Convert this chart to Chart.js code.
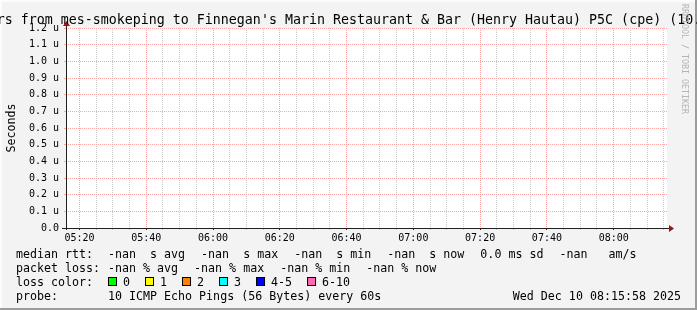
<!DOCTYPE html>
<html>
<head>
<meta charset="utf-8">
<script src="https://cdn.jsdelivr.net/npm/chart.js@4.4.1/dist/chart.umd.min.js"></script>
<style>
  html, body { margin: 0; padding: 0; background: #f3f3f3; }
  #wrap { width: 697px; height: 310px; position: relative; }
</style>
</head>
<body>
<div id="wrap"><canvas id="smoke" width="697" height="310"></canvas></div>
<script>
// time axis is in minutes after midnight, last 3 hours up to 08:15:58
const rangeStart = 315 + 58 / 60;
const rangeEnd = 495 + 58 / 60;
const gridMinutes = [320, 325, 330, 335, 340, 345, 350, 355, 360, 365, 370, 375,
                     380, 385, 390, 395, 400, 405, 410, 415, 420, 425, 430, 435,
                     440, 445, 450, 455, 460, 465, 470, 475, 480, 485, 490, 495];
const labelMinutes = [320, 340, 360, 380, 400, 420, 440, 460, 480];
const xTickLabels = ['05:20', '05:40', '06:00', '06:20', '06:40', '07:00', '07:20', '07:40', '08:00'];
const yTicks = [0, 0.1, 0.2, 0.3, 0.4, 0.5, 0.6, 0.7, 0.8, 0.9, 1.0, 1.1, 1.2];
const yTickLabels = ['0.0', '0.1 u', '0.2 u', '0.3 u', '0.4 u', '0.5 u', '0.6 u', '0.7 u',
                     '0.8 u', '0.9 u', '1.0 u', '1.1 u', '1.2 u'];

// no samples came back (-nan), so the series is empty
const pingTimes = [];
const medianRtt = [];

const statNames = ['avg', 'max', 'min', 'now'];
const rttValues = ['-nan', '-nan', '-nan', '-nan'];
const lossValues = ['-nan', '-nan', '-nan', '-nan'];
const sdValue = '0.0';
const amsValue = '-nan';
const lossLabels = ['0', '1', '2', '3', '4-5', '6-10'];
const lossColors = ['#00ff00', '#ffff00', '#ff8000', '#00ffff', '#0000ff', '#ff69b4'];

const titleText = "rs from mes-smokeping to Finnegan's Marin Restaurant & Bar (Henry Hautau) P5C (cpe) (10.";
const probeText = '10 ICMP Echo Pings (56 Bytes) every 60s';
const stampText = 'Wed Dec 10 08:15:58 2025';

const MONO = '"DejaVu Sans Mono", monospace';
const MAJOR = '#ffa3a3';
const MINOR = '#c9c9c9';

const rrdDecor = {
  id: 'rrdDecor',
  beforeDraw(chart) {
    const { ctx, chartArea: a } = chart;
    ctx.save();
    ctx.fillStyle = '#f3f3f3';
    ctx.fillRect(0, 0, 697, 310);
    // frame
    ctx.fillStyle = '#fcfcfc';
    ctx.fillRect(0, 0, 697, 2);
    ctx.fillRect(0, 0, 2, 310);
    ctx.fillStyle = '#9c9c9c';
    ctx.fillRect(695, 0, 2, 310);
    ctx.fillRect(0, 308, 697, 2);
    ctx.fillStyle = '#ffffff';
    ctx.fillRect(a.left, a.top, a.right - a.left, a.bottom - a.top);
    ctx.restore();
  },
  afterDraw(chart) {
    const { ctx, chartArea: a } = chart;
    ctx.save();
    // axes
    ctx.strokeStyle = '#202020';
    ctx.lineWidth = 1;
    ctx.beginPath();
    ctx.moveTo(a.left + 0.5, 24);
    ctx.lineTo(a.left + 0.5, a.bottom + 2);
    ctx.moveTo(a.left - 4, a.bottom + 0.5);
    ctx.lineTo(a.right + 4, a.bottom + 0.5);
    ctx.stroke();
    ctx.fillStyle = '#901818';
    ctx.beginPath();
    ctx.moveTo(a.left + 0.5, 21);
    ctx.lineTo(a.left - 3, 26);
    ctx.lineTo(a.left + 4, 26);
    ctx.closePath();
    ctx.fill();
    ctx.beginPath();
    ctx.moveTo(a.right + 7, a.bottom + 0.5);
    ctx.lineTo(a.right + 2, a.bottom - 3);
    ctx.lineTo(a.right + 2, a.bottom + 4);
    ctx.closePath();
    ctx.fill();

    // title
    ctx.fillStyle = '#000';
    ctx.font = '13.3px ' + MONO;
    ctx.textBaseline = 'alphabetic';
    ctx.textAlign = 'left';
    ctx.fillText(titleText, -3.3, 24);

    // vertical unit label
    ctx.font = '11.65px ' + MONO;
    ctx.save();
    ctx.translate(15, (a.top + a.bottom) / 2);
    ctx.rotate(-Math.PI / 2);
    ctx.textAlign = 'center';
    ctx.fillText('Seconds', 0, 0);
    ctx.restore();

    // watermark
    ctx.save();
    ctx.fillStyle = '#b4b4b4';
    ctx.font = '8.3px ' + MONO;
    ctx.translate(682, 4);
    ctx.rotate(Math.PI / 2);
    ctx.fillText('RRDTOOL / TOBI OETIKER', 0, 0);
    ctx.restore();

    // legend
    ctx.font = '11.65px ' + MONO;
    ctx.fillStyle = '#000';
    const col = 108, gap = 16;
    const rows = [258, 272, 286, 300];
    ctx.fillText('median rtt:', 16, rows[0]);
    let x = col;
    const rttItems = rttValues.map((v, i) => v + '  s ' + statNames[i])
      .concat([sdValue + ' ms sd', amsValue + '   am/s']);
    rttItems.forEach(t => { ctx.fillText(t, x, rows[0]); x += ctx.measureText(t).width + gap; });

    ctx.fillText('packet loss:', 16, rows[1]);
    x = col;
    lossValues.map((v, i) => v + ' % ' + statNames[i])
      .forEach(t => { ctx.fillText(t, x, rows[1]); x += ctx.measureText(t).width + gap; });

    ctx.fillText('loss color:', 16, rows[2]);
    x = col;
    lossLabels.forEach((l, i) => {
      ctx.fillStyle = lossColors[i];
      ctx.fillRect(x + 0.5, rows[2] - 8.5, 8, 8);
      ctx.strokeStyle = '#000';
      ctx.strokeRect(x + 0.5, rows[2] - 8.5, 8, 8);
      ctx.fillStyle = '#000';
      ctx.fillText(l, x + 15, rows[2]);
      x += 15 + ctx.measureText(l).width + 15;
    });

    ctx.fillText('probe:', 16, rows[3]);
    ctx.fillText(probeText, col, rows[3]);
    ctx.textAlign = 'right';
    ctx.fillText(stampText, 681, rows[3]);
    ctx.restore();
  }
};

new Chart(document.getElementById('smoke'), {
  type: 'line',
  data: {
    datasets: [{
      label: 'median rtt',
      data: pingTimes.map((t, i) => ({ x: t, y: medianRtt[i] })),
      borderColor: '#00c000',
      pointRadius: 0
    }]
  },
  options: {
    responsive: false,
    animation: false,
    devicePixelRatio: 1,
    layout: { padding: { top: 28, right: 30, left: 0, bottom: 0 } },
    plugins: { legend: { display: false }, tooltip: { enabled: false } },
    scales: {
      x: {
        type: 'linear',
        min: rangeStart,
        max: rangeEnd,
        afterBuildTicks: s => { s.ticks = gridMinutes.map(v => ({ value: v })); },
        afterFit: s => { s.height = 82; },
        grid: {
          color: c => labelMinutes.includes(c.tick && c.tick.value) ? MAJOR : MINOR,
          tickColor: c => labelMinutes.includes(c.tick && c.tick.value) ? '#202020' : MINOR,
          tickLength: 2,
          lineWidth: 1,
          borderDash: [1, 1]
        },
        border: { display: false, dash: [1, 1] },
        ticks: {
          autoSkip: false,
          maxRotation: 0,
          padding: 2,
          color: '#000',
          font: { family: MONO, size: 10 },
          callback: v => {
            const i = labelMinutes.indexOf(v);
            return i < 0 ? '' : xTickLabels[i];
          }
        }
      },
      y: {
        min: 0,
        max: 1.2,
        afterBuildTicks: s => { s.ticks = yTicks.map(v => ({ value: v })); },
        afterFit: s => { s.width = 66; },
        grid: { color: MAJOR, tickColor: MAJOR, tickLength: 2, lineWidth: 1, borderDash: [1, 1] },
        border: { display: false, dash: [1, 1] },
        ticks: {
          padding: 5,
          color: '#000',
          font: { family: MONO, size: 10 },
          callback: (v, i) => yTickLabels[i]
        }
      }
    }
  },
  plugins: [rrdDecor]
});
</script>
</body>
</html>
